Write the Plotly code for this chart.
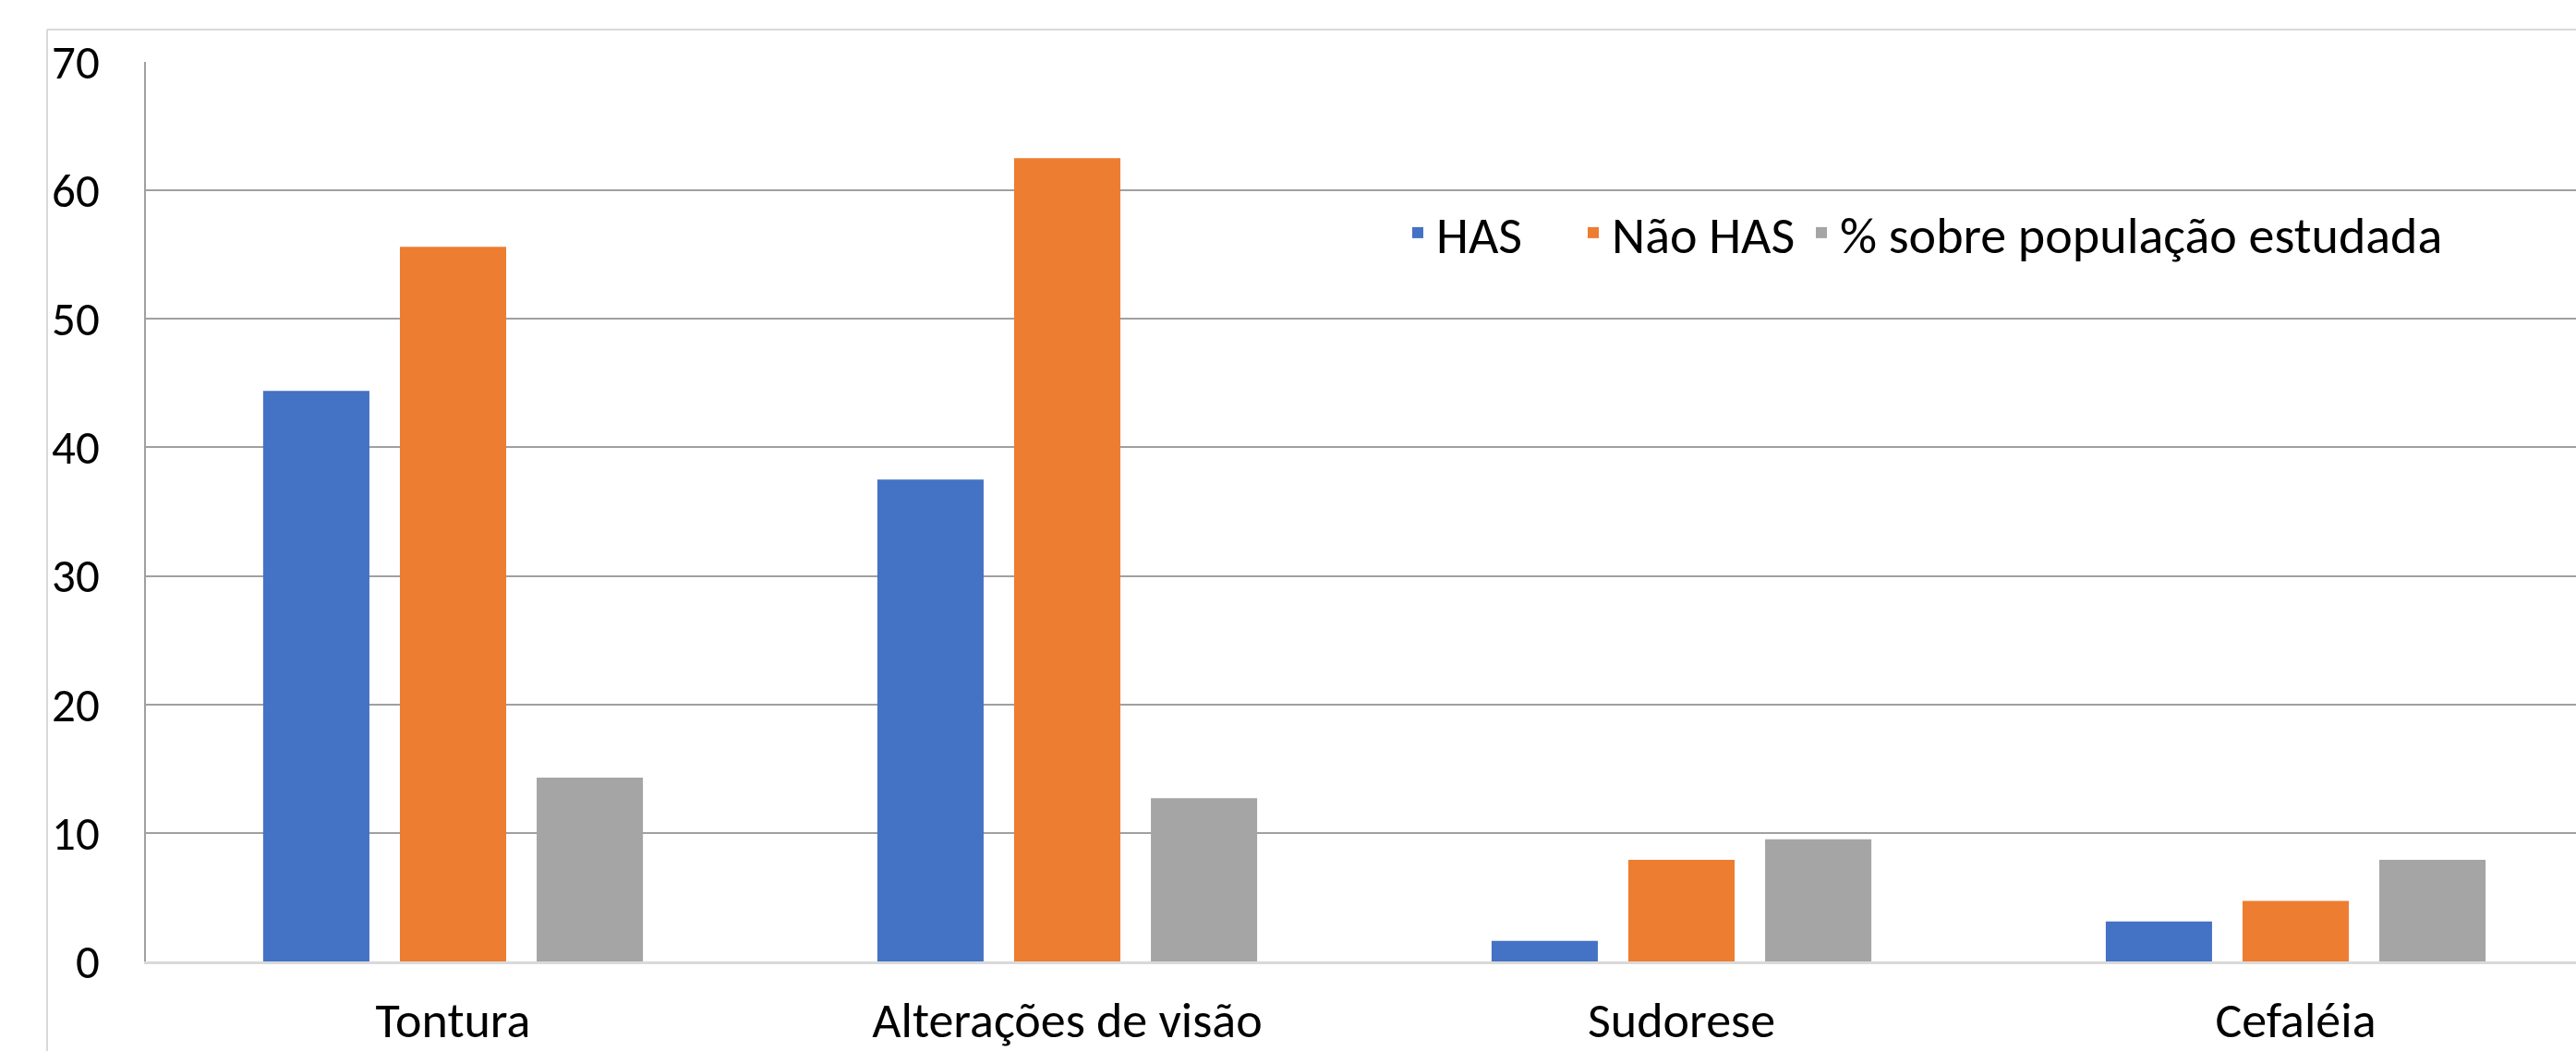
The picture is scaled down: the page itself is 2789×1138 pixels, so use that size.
import plotly.graph_objects as go

categories = ["Tontura", "Alterações de visão", "Sudorese", "Cefaléia"]
has = [44.4, 37.5, 1.6, 3.1]
nao_has = [55.6, 62.5, 7.9, 4.7]
pct_pop = [14.3, 12.7, 9.5, 7.9]
series_names = ["HAS", "Não HAS", "% sobre população estudada"]
y_ticks = [0, 10, 20, 30, 40, 50, 60, 70]

W, H = 2789, 1138
ML, MT, MB, MR = 158, 67, 97, 0
PW = W - ML - MR
PH = H - MT - MB
cat_px = 665.0

FONT = "Carlito, Calibri, Lato, sans-serif"
FS = 54
FS_Y = 51
FS_LEG = 56

colors = ["#4472C4", "#ED7D31", "#A5A5A5"]
legend_ids = ["legend", "legend2", "legend3"]
legend_text_px = [1555, 1745, 1992]

def px_to_paper_x(px):
    return (px - ML) / PW

def px_to_paper_y(py):
    return (H - MB - py) / PH

fig = go.Figure()
for name, vals, c, lid in zip(series_names, [has, nao_has, pct_pop], colors, legend_ids):
    fig.add_trace(go.Bar(x=categories, y=vals, name=name, legend=lid,
                         marker=dict(color=c, line=dict(width=0))))

x_hi = -0.5 + PW / cat_px

legend_common = dict(
    orientation="h", xanchor="left", yanchor="middle",
    y=px_to_paper_y(252),
    font=dict(family=FONT, size=FS_LEG, color="#000000"),
    bgcolor="rgba(0,0,0,0)", borderwidth=0,
)
legends = {}
for lid, tx in zip(legend_ids, legend_text_px):
    d = dict(legend_common)
    d["x"] = px_to_paper_x(tx - 40)
    legends[lid] = d

fig.update_layout(
    width=W, height=H,
    margin=dict(l=ML, r=MR, t=MT, b=MB, pad=0),
    paper_bgcolor="white", plot_bgcolor="white",
    barmode="group", bargap=0.332, bargroupgap=0.223,
    font=dict(family=FONT, size=FS, color="#000000"),
    showlegend=True,
    xaxis=dict(
        type="category", range=[-0.5, x_hi], showgrid=False, automargin=False,
        showline=True, linecolor="#D9D9D9", linewidth=3,
        ticks="", tickfont=dict(family=FONT, size=FS, color="#000000"),
        ticklabelstandoff=14, zeroline=False, fixedrange=True,
    ),
    yaxis=dict(
        range=[0, 70], tickvals=y_ticks, showgrid=True, automargin=False,
        gridcolor="#A0A0A0", gridwidth=2,
        showline=True, linecolor="#A0A0A0", linewidth=2,
        ticks="", tickfont=dict(family=FONT, size=FS_Y, color="#000000"),
        ticklabelstandoff=38, zeroline=False, fixedrange=True,
    ),
    shapes=[
        dict(type="line", xref="paper", yref="paper",
             x0=px_to_paper_x(51), x1=1.01, y0=px_to_paper_y(32), y1=px_to_paper_y(32),
             line=dict(color="#D9D9D9", width=2)),
        dict(type="line", xref="paper", yref="paper",
             x0=px_to_paper_x(51), x1=px_to_paper_x(51), y0=px_to_paper_y(32), y1=px_to_paper_y(H + 5),
             line=dict(color="#D9D9D9", width=2)),
    ],
    **legends,
)

fig.write_html("out.html", config={"displayModeBar": False},
               post_script="document.body.style.margin='0';document.body.style.overflow='hidden';")
